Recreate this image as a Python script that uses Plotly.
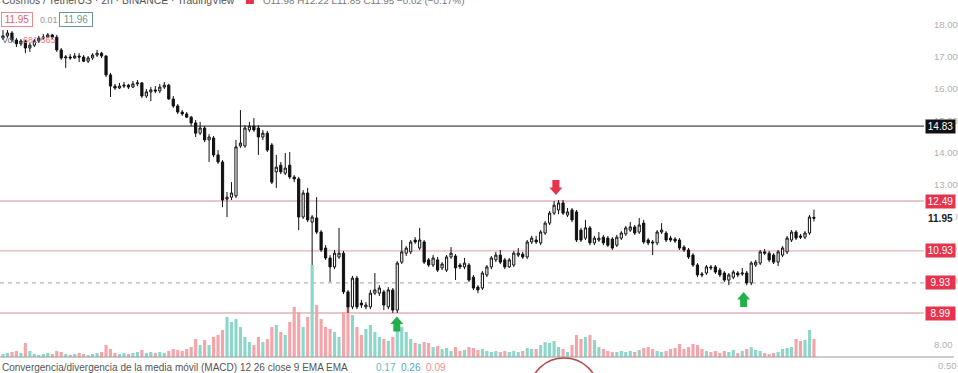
import plotly.graph_objects as go

# ---------------- data (prices in USDT, volume in thousands) ----------------
open_a = [17.58,17.65,17.74,17.52,17.40,17.49,17.27,17.36,17.49,17.58,17.61,17.68,17.61,17.21,16.96,16.99,16.96,17.02,16.99,16.86,
          16.96,17.05,17.11,17.02,16.43,16.08,16.02,16.08,16.11,16.05,16.15,16.18,15.77,15.90,15.96,15.93,16.05,16.11,15.68,15.46,
          15.27,15.21,15.11,14.93,14.61,14.77]
high_a = [17.83,17.83,17.80,17.58,17.55,17.52,17.43,17.55,17.65,17.71,17.74,17.71,17.68,17.27,17.05,17.08,17.11,17.11,17.05,17.02,
          17.11,17.21,17.15,17.05,16.49,16.15,16.18,16.21,16.15,16.24,16.27,16.21,15.99,16.05,16.08,16.15,16.21,16.15,15.77,15.52,
          15.33,15.27,15.15,15.02,14.96,14.83]
low_a = [17.52,17.58,17.46,17.30,17.33,17.11,17.15,17.30,17.43,17.52,17.58,17.55,17.15,16.90,16.65,16.90,16.93,16.83,16.83,16.80,
         16.90,16.99,16.96,16.36,15.74,15.96,15.99,16.02,15.99,16.02,16.08,15.71,15.71,15.61,15.86,15.86,15.99,15.65,15.40,15.21,
         15.15,15.08,14.83,14.49,14.55,14.33]
close_a = [17.65,17.74,17.52,17.40,17.49,17.27,17.36,17.49,17.58,17.61,17.68,17.61,17.21,16.96,16.99,16.96,17.02,16.99,16.86,16.96,
           17.05,17.11,17.02,16.43,16.08,16.02,16.08,16.11,16.05,16.15,16.18,15.77,15.90,15.96,15.93,16.05,16.11,15.68,15.46,15.27,
           15.21,15.11,14.93,14.61,14.77,14.40]

open_b = [14.40,14.46,13.93,13.71,12.55,12.61,12.65,14.21,14.21,14.71,14.83,14.77,14.49,14.61,14.24,13.40,13.61,13.36,13.61,13.24,
          13.18,11.99,12.74,11.83,11.96,11.52,11.02,10.71,10.43,10.74,10.86,9.65,9.18,10.08,9.30,9.18,9.18,9.61,9.61,9.65,
          9.18,9.71]
high_b = [14.58,14.52,14.08,13.77,12.77,13.08,14.40,15.33,14.86,14.96,15.08,14.86,14.71,14.68,14.30,13.93,13.71,13.99,14.02,13.30,
          13.24,12.83,12.90,12.05,12.61,11.58,11.11,10.80,10.96,11.65,10.93,9.71,10.15,10.15,9.40,9.33,9.71,10.24,9.86,9.71,
          9.80,9.77]
low_b = [13.71,13.86,13.65,12.30,11.99,12.52,12.58,14.15,14.15,14.65,14.65,13.93,14.40,14.02,13.02,12.90,13.33,13.30,13.18,13.08,
         11.58,11.93,11.83,10.49,11.46,10.90,10.65,9.96,10.36,10.68,9.58,8.99,9.11,9.11,9.15,9.11,9.11,9.55,9.52,9.08,
         9.11,8.99]
close_b = [14.49,13.93,13.71,12.52,12.61,12.74,14.18,14.30,14.77,14.83,14.71,14.49,14.61,14.08,13.08,13.55,13.40,13.52,13.24,13.18,
           11.99,12.74,11.90,11.99,11.52,10.96,10.71,10.43,10.86,10.86,9.65,9.18,10.08,9.18,9.24,9.24,9.61,9.71,9.77,9.24,
           9.71,9.08]

open_c = [9.08,10.58,10.86,10.90,11.27,11.02,11.21,10.65,10.49,10.65,10.40,10.33,10.74,10.77,10.49,10.43,10.49,10.11,9.80,9.77,
          10.18,10.43,10.65,10.80,10.65,10.43,10.49,10.80,10.83,10.74,11.21,11.27,11.18,11.49,11.80,12.11,12.21,12.43,12.05,12.21,
          12.15,11.58,11.33,11.65,11.18,11.27,11.36]
high_c = [10.61,11.27,11.08,11.27,11.36,11.65,11.27,10.71,10.80,10.74,10.58,10.80,11.05,10.83,10.55,10.71,10.55,10.18,9.86,10.30,
          10.49,10.77,10.90,10.96,10.71,10.71,10.93,11.02,10.90,11.27,11.40,11.40,11.58,11.86,12.18,12.49,12.52,12.52,12.27,12.27,
          12.21,11.65,11.90,11.71,11.40,11.52,11.43]
low_c = [8.99,10.52,10.77,10.83,11.15,10.96,10.52,10.43,10.43,10.27,10.33,10.27,10.68,10.02,10.36,10.36,9.96,9.71,9.61,9.71,
         10.11,10.36,10.58,10.52,10.36,10.40,10.43,10.74,10.68,10.68,11.15,11.15,11.11,11.43,11.74,12.05,12.08,12.05,11.99,11.83,
         11.21,11.21,11.27,11.11,11.11,11.21,11.11]
close_c = [10.55,10.90,11.02,11.21,11.21,11.27,10.58,10.49,10.71,10.33,10.52,10.74,10.86,10.40,10.43,10.55,10.02,9.77,9.71,10.24,
           10.43,10.71,10.80,10.58,10.43,10.65,10.86,10.86,10.74,11.21,11.33,11.21,11.52,11.80,12.11,12.36,12.43,12.11,12.15,11.90,
           11.27,11.27,11.65,11.18,11.33,11.33,11.18]

open_d = [11.33,11.30,11.11,11.33,11.46,11.58,11.68,11.52,11.80,11.27,11.21,11.18,11.52,11.49,11.33,11.30,11.27,11.05,10.96,10.80,
          10.49,10.21,10.24,10.43,10.43,10.33,10.24,10.02,10.11,10.24,10.21,10.24,9.93,10.49,10.55,10.90,10.86,10.80,10.58,10.80,
          10.90,11.27,11.52,11.40,11.36,11.49,11.98]
high_d = [11.40,11.36,11.43,11.55,11.71,11.83,11.74,11.96,11.90,11.33,11.27,11.58,11.80,11.55,11.40,11.36,11.33,11.11,11.02,10.86,
          10.55,10.27,10.49,10.49,10.49,10.40,10.30,10.24,10.33,10.30,10.40,10.30,10.61,10.65,10.96,10.99,10.93,10.86,10.96,11.08,
          11.40,11.58,11.58,11.46,11.55,12.05,12.22]
low_d = [11.05,10.96,11.05,11.27,11.40,11.52,11.43,11.46,11.15,11.11,10.80,11.11,11.46,11.21,11.21,11.18,10.96,10.90,10.68,10.43,
         10.11,10.11,10.18,10.33,10.21,10.11,9.96,9.86,10.05,10.11,10.15,9.86,9.86,10.43,10.49,10.80,10.58,10.52,10.46,10.74,
         10.83,11.21,11.27,11.30,11.30,11.43,11.85]
close_d = [11.11,11.02,11.36,11.49,11.65,11.68,11.49,11.74,11.21,11.18,11.18,11.52,11.58,11.27,11.27,11.24,11.02,10.96,10.74,10.49,
           10.18,10.18,10.43,10.40,10.27,10.18,10.02,10.18,10.27,10.18,10.24,9.93,10.55,10.58,10.90,10.86,10.65,10.58,10.90,11.02,
           11.33,11.52,11.33,11.36,11.49,11.99,11.95]

volume_a = [120,160,200,240,160,560,240,120,80,120,160,120,240,200,120,80,120,160,120,80,
            120,160,200,480,320,160,120,160,120,160,200,280,160,200,160,200,160,240,320,280,
            240,320,400,720,480,680]
volume_b = [480,800,880,1080,1600,1400,1520,1200,800,600,480,800,600,720,1200,1280,1000,880,1400,2000,
            1800,1200,1600,3680,2080,1520,1200,1120,1000,800,1800,2000,1680,1200,880,1120,1280,1000,800,720,
            640,800]
volume_c = [1440,1200,1000,720,560,520,600,560,400,440,320,360,240,400,240,280,400,360,280,320,
            240,200,240,200,240,200,240,200,240,360,320,320,480,600,560,640,400,320,200,480,
            880,720,800,880,680,400,320]
volume_d = [240,200,200,240,200,240,200,280,360,400,320,240,200,240,320,360,520,320,400,520,
            480,320,240,200,240,160,240,200,280,160,240,320,400,280,240,160,120,160,200,320,
            360,400,720,640,680,1080,720]

level_prices = [14.83, 12.49, 10.93, 9.93, 8.99]
level_labels = ["14.83", "12.49", "10.93", "9.93", "8.99"]
price_ticks = [8, 9, 10, 11, 12, 13, 14, 15, 16, 17, 18]
last_price = 11.95
macd_values = ["0.17", "0.26", "0.09"]
arrow_down_at = (123.4, 12.91)           # (bar index, price)
arrow_up_at = [(87.9, 8.645), (165.3, 9.41)]

opens = open_a + open_b + open_c + open_d
highs = high_a + high_b + high_c + high_d
lows = low_a + low_b + low_c + low_d
closes = close_a + close_b + close_c + close_d
volumes = volume_a + volume_b + volume_c + volume_d
idx = list(range(len(closes)))

# ---------------- layout constants ----------------
W, H = 958, 373
PW = 928               # plot-area width in px
PANE_BOT = 357         # bottom of price pane in px
FONT = "Liberation Sans, Arial, sans-serif"
d0 = (H - PANE_BOT) / H
RED = "#e8334c"
UP_VOL = "#8dd6ca"
DN_VOL = "#f5a5aa"


def px_x(px):
    return px / PW


def px_y(py):
    return (H - py) / H


vol_colors = [UP_VOL if c >= o else DN_VOL for o, c in zip(opens, closes)]

fig = go.Figure()
fig.add_trace(go.Bar(x=idx, y=volumes, marker=dict(color=vol_colors, line=dict(width=0)),
                     xaxis="x", yaxis="y", hoverinfo="skip"))
fig.add_trace(go.Candlestick(
    x=idx, open=opens, high=highs, low=lows, close=closes,
    xaxis="x", yaxis="y2", whiskerwidth=0,
    increasing=dict(line=dict(color="#111111", width=1), fillcolor="#ffffff"),
    decreasing=dict(line=dict(color="#111111", width=1), fillcolor="#111111"),
))

shapes = []
annotations = []

# horizontal levels
for p, lab in zip(level_prices, level_labels):
    if lab == "14.83":
        lc, dash, w, bg = "#7c7c7c", "solid", 1.6, "#111111"
    elif lab == "9.93":
        lc, dash, w, bg = "#b5b5b5", "4px,4px", 1.4, RED
    else:
        lc, dash, w, bg = "#e2b3b7", "solid", 1.4, RED
    shapes.append(dict(type="line", xref="paper", yref="y2", x0=0, x1=1, y0=p, y1=p,
                       line=dict(color=lc, width=w, dash=dash), layer="below"))
    annotations.append(dict(xref="paper", yref="y2", x=1, y=p, xanchor="left", yanchor="middle",
                            xshift=1, text=lab, showarrow=False, bgcolor=bg, borderpad=1,
                            font=dict(family=FONT, size=10, color="white"), width=27, align="center"))

# current price label
annotations.append(dict(xref="paper", yref="y2", x=1, y=last_price, xanchor="left", yanchor="middle",
                        xshift=1, text="<b>11.95</b>", showarrow=False, bgcolor="white", borderpad=1,
                        font=dict(family=FONT, size=10, color="#222222"), width=27, align="center"))

# arrows (pixel-sized paths anchored on data)
down_path = "M -3.5,7.5 L 3.5,7.5 L 3.5,0 L 6.5,0 L 0,-7.5 L -6.5,0 L -3.5,0 Z"
up_path = "M -3.5,-7.5 L 3.5,-7.5 L 3.5,0 L 6.5,0 L 0,7.5 L -6.5,0 L -3.5,0 Z"
shapes.append(dict(type="path", xref="x", yref="y2", xsizemode="pixel", ysizemode="pixel",
                   xanchor=arrow_down_at[0], yanchor=arrow_down_at[1], path=down_path,
                   fillcolor=RED, line=dict(width=0)))
for ax_, ay_ in arrow_up_at:
    shapes.append(dict(type="path", xref="x", yref="y2", xsizemode="pixel", ysizemode="pixel",
                       xanchor=ax_, yanchor=ay_, path=up_path,
                       fillcolor="#22b04a", line=dict(width=0)))

# pane separator
shapes.append(dict(type="line", xref="paper", yref="paper", x0=0, x1=W / PW, y0=px_y(PANE_BOT), y1=px_y(PANE_BOT),
                   line=dict(color="#9a9a9a", width=1)))
# hand-drawn red circle in MACD pane
shapes.append(dict(type="circle", xref="paper", yref="paper", x0=px_x(533), x1=px_x(600),
                   y0=px_y(420), y1=px_y(358), line=dict(color="#b8474a", width=1.5)))
# small red status icon in header
shapes.append(dict(type="rect", xref="paper", yref="paper", x0=px_x(247), x1=px_x(255),
                   y0=px_y(4), y1=px_y(-2), fillcolor=RED, line=dict(width=0)))

# header texts
annotations += [
    dict(xref="paper", yref="paper", x=0, y=px_y(0), xanchor="left", yanchor="middle",
         text="Cosmos / TetherUS · 2h · BINANCE · TradingView", showarrow=False,
         font=dict(family=FONT, size=10.4, color="#555555")),
    dict(xref="paper", yref="paper", x=px_x(262), y=px_y(0), xanchor="left", yanchor="middle",
         text="O11.98 H12.22 L11.85 C11.95 −0.02 (−0.17%)", showarrow=False,
         font=dict(family=FONT, size=9.8, color="#777777")),
    dict(xref="paper", yref="paper", x=px_x(1), y=px_y(19.5), xanchor="left", yanchor="middle",
         text="11.95", showarrow=False, bordercolor="#e98a92", borderwidth=1, borderpad=1, bgcolor="white",
         font=dict(family=FONT, size=10, color="#e06470"), width=28),
    dict(xref="paper", yref="paper", x=px_x(38), y=px_y(19.5), xanchor="left", yanchor="middle",
         text="0.01", showarrow=False, font=dict(family=FONT, size=9, color="#9a9a9a")),
    dict(xref="paper", yref="paper", x=px_x(59), y=px_y(19.5), xanchor="left", yanchor="middle",
         text="11.96", showarrow=False, bordercolor="#6f9792", borderwidth=1, borderpad=1, bgcolor="white",
         font=dict(family=FONT, size=10, color="#6f9792"), width=30),
    dict(xref="paper", yref="paper", x=0, y=px_y(40), xanchor="left", yanchor="middle",
         text="Vol", showarrow=False, font=dict(family=FONT, size=9, color="#666666")),
    dict(xref="paper", yref="paper", x=px_x(21), y=px_y(40), xanchor="left", yanchor="middle",
         text="681.565", showarrow=False, font=dict(family=FONT, size=9, color="#e57a80")),
    dict(xref="paper", yref="paper", x=0, y=px_y(367), xanchor="left", yanchor="middle",
         text="Convergencia/divergencia de la media móvil (MACD) 12 26 close 9 EMA EMA",
         showarrow=False, font=dict(family=FONT, size=10, color="#555555")),
    dict(xref="paper", yref="paper", x=px_x(376), y=px_y(367), xanchor="left", yanchor="middle",
         text=(f"<span style='color:#5dbcc4'>{macd_values[0]}</span>&nbsp;&nbsp;"
               f"<span style='color:#4fa6c9'>{macd_values[1]}</span>&nbsp;&nbsp;"
               f"<span style='color:#ef8b94'>{macd_values[2]}</span>"),
         showarrow=False, font=dict(family=FONT, size=10, color="#555555")),
    dict(xref="paper", yref="paper", x=px_x(940), y=px_y(365), xanchor="left", yanchor="middle",
         text="0.50", showarrow=False, font=dict(family=FONT, size=9.5, color="#b2b2b2")),
]

fig.update_layout(
    width=W, height=H,
    margin=dict(l=0, r=W - PW, t=0, b=0),
    paper_bgcolor="white", plot_bgcolor="white",
    showlegend=False, bargap=0.3, boxgap=0.3,
    font=dict(family=FONT),
    xaxis=dict(range=[-0.667, 205.56], visible=False, rangeslider=dict(visible=False), fixedrange=True),
    yaxis=dict(domain=[d0, 1], range=[0, 14280], visible=False),
    yaxis2=dict(overlaying="y", side="right", range=[7.615, 18.771], tickvals=price_ticks,
                ticktext=[f"{t:.2f}" for t in price_ticks], showgrid=False, zeroline=False,
                showline=False, ticks="", ticklabelstandoff=9,
                tickfont=dict(family=FONT, size=9.5, color="#b0b0b0")),
    shapes=shapes, annotations=annotations,
)

fig.write_html("out.html", config={"displayModeBar": False},
               post_script="document.body.style.margin='0px';document.body.style.overflow='hidden';")
